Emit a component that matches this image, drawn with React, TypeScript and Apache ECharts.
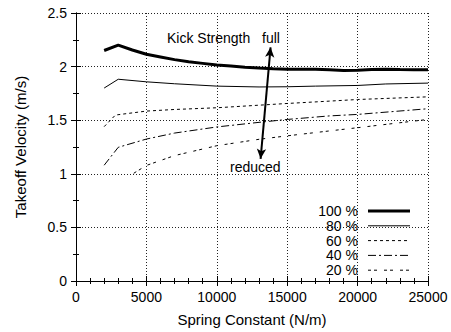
import React, { useEffect, useRef } from "react";
import * as echarts from "echarts";

const xTicks = [0, 5000, 10000, 15000, 20000, 25000];
const yTicks = [0, 0.5, 1, 1.5, 2, 2.5];

const k100 = [2000, 3000, 4000, 5000, 6000, 7000, 8000, 9000, 10000, 11000, 12000, 13000, 14000, 15000, 16000, 17000, 18000, 19000, 20000, 21000, 22000, 23000, 24000, 25000];
const v100 = [2.15, 2.2, 2.155, 2.115, 2.09, 2.065, 2.045, 2.03, 2.015, 2.005, 1.995, 1.987, 1.981, 1.976, 1.975, 1.975, 1.97, 1.963, 1.966, 1.972, 1.976, 1.972, 1.97, 1.97];

const k80 = [2000, 3000, 5000, 7000, 10000, 13000, 15000, 17000, 20000, 22000, 25000];
const v80 = [1.8, 1.882, 1.858, 1.84, 1.818, 1.81, 1.812, 1.818, 1.824, 1.838, 1.846];

const k60 = [2000, 2800, 5000, 7000, 10000, 13000, 15000, 18000, 20000, 25000];
const v60 = [1.44, 1.548, 1.585, 1.6, 1.616, 1.64, 1.656, 1.678, 1.693, 1.718];

const k40 = [2000, 3000, 5000, 7000, 10000, 13000, 15000, 18000, 20000, 25000];
const v40 = [1.08, 1.247, 1.324, 1.38, 1.437, 1.48, 1.507, 1.54, 1.554, 1.607];

const k20 = [4100, 5000, 7000, 10000, 13000, 15000, 18000, 20000, 25000];
const v20 = [1.005, 1.078, 1.17, 1.262, 1.322, 1.354, 1.4, 1.43, 1.507];

const seriesNames = ["100 %", "80 %", "60 %", "40 %", "20 %"];
const seriesK = [k100, k80, k60, k40, k20];
const seriesV = [v100, v80, v60, v40, v20];
const seriesWidth = [3, 1, 1, 1, 1];
const seriesDash: (number[] | "solid")[] = ["solid", "solid", [3, 3], [8, 3, 2, 3], [3, 3, 3, 7]];

const arrowTop = [13820, 2.18];
const arrowBottom = [13110, 1.14];

const FONT = "Liberation Sans, Arial, Helvetica, sans-serif";

export default function App() {
  const ref = useRef<HTMLDivElement>(null);
  useEffect(() => {
    if (!ref.current) return;
    const chart = echarts.init(ref.current, undefined, { renderer: "svg" });

    const axisCommon = {
      type: "value" as const,
      axisLine: { show: true, lineStyle: { color: "#000", width: 1 } },
      axisTick: { show: true, inside: true, length: 5, lineStyle: { color: "#000" } },
      axisLabel: { color: "#000", fontSize: 14, fontFamily: FONT, formatter: (v: number) => String(v) },
      nameTextStyle: { color: "#000", fontSize: 15, fontFamily: FONT },
    };
    const gridLine = { show: true, lineStyle: { color: "#222", type: [1, 2], width: 1 } };

    const series: any[] = seriesNames.map((name, i) => ({
      type: "line",
      name,
      data: seriesK[i].map((k, j) => [k, seriesV[i][j]]),
      showSymbol: false,
      symbol: "none",
      lineStyle: { color: "#000", width: seriesWidth[i], type: seriesDash[i] },
      z: 3,
    }));
    series.push({
      type: "line",
      data: [],
      markLine: {
        silent: true,
        symbol: ["arrow", "arrow"],
        symbolSize: [7, 10],
        label: { show: false },
        lineStyle: { color: "#000", width: 2, type: "solid" },
        data: [[{ coord: arrowTop }, { coord: arrowBottom }]],
      },
    });

    const legendTop = 211;
    const legendGap = 14.8;
    const legendChildren: any[] = [
      { type: "rect", shape: { x: 316, y: 201, width: 110, height: 77 }, style: { fill: "#fff" } },
    ];
    seriesNames.forEach((name, i) => {
      const y = legendTop + i * legendGap;
      legendChildren.push({
        type: "text",
        x: 358,
        y,
        style: { text: name, fill: "#000", fontSize: 14, fontFamily: FONT, align: "right", verticalAlign: "middle" },
      });
      legendChildren.push({
        type: "line",
        shape: { x1: 368, y1: y, x2: 410, y2: y },
        style: {
          stroke: "#000",
          lineWidth: seriesWidth[i],
          lineDash: seriesDash[i] === "solid" ? null : seriesDash[i],
        },
      });
    });

    const xMinor = { show: true, splitNumber: 5, length: 3, lineStyle: { color: "#000" } };
    const yMinor = { show: true, splitNumber: 2, length: 3, lineStyle: { color: "#000" } };

    chart.setOption({
      animation: false,
      backgroundColor: "#fff",
      grid: { left: 76, right: 23, top: 13, bottom: 48, containLabel: false },
      xAxis: [
        {
          ...axisCommon,
          position: "bottom",
          min: xTicks[0],
          max: xTicks[xTicks.length - 1],
          interval: 5000,
          minorTick: xMinor,
          axisLabel: { ...axisCommon.axisLabel, margin: 9 },
          splitLine: gridLine,
          name: "Spring Constant (N/m)",
          nameLocation: "middle",
          nameGap: 31,
        },
        {
          ...axisCommon,
          position: "top",
          min: xTicks[0],
          max: xTicks[xTicks.length - 1],
          interval: 5000,
          minorTick: xMinor,
          axisLabel: { show: false },
          splitLine: { show: false },
        },
      ],
      yAxis: [
        {
          ...axisCommon,
          position: "left",
          min: yTicks[0],
          max: yTicks[yTicks.length - 1],
          interval: 0.5,
          minorTick: yMinor,
          axisLabel: { ...axisCommon.axisLabel, margin: 9 },
          splitLine: gridLine,
          name: "Takeoff Velocity (m/s)",
          nameLocation: "middle",
          nameGap: 48,
        },
        {
          ...axisCommon,
          position: "right",
          min: yTicks[0],
          max: yTicks[yTicks.length - 1],
          interval: 0.5,
          minorTick: yMinor,
          axisLabel: { show: false },
          splitLine: { show: false },
        },
      ],
      series,
      graphic: [
        { type: "group", z: 50, children: legendChildren },
        {
          type: "text",
          z: 50,
          x: 167,
          y: 38,
          style: { text: "Kick Strength", fill: "#000", fontSize: 14, fontFamily: FONT, verticalAlign: "middle" },
        },
        {
          type: "text",
          z: 50,
          x: 262,
          y: 38,
          style: { text: "full", fill: "#000", fontSize: 14, fontFamily: FONT, verticalAlign: "middle" },
        },
        {
          type: "text",
          z: 50,
          x: 230,
          y: 167,
          style: { text: "reduced", fill: "#000", fontSize: 14, fontFamily: FONT, verticalAlign: "middle" },
        },
      ],
    });
    return () => chart.dispose();
  }, []);
  return <div ref={ref} style={{ position: "fixed", left: 0, top: 0, width: 451, height: 332 }} />;
}
